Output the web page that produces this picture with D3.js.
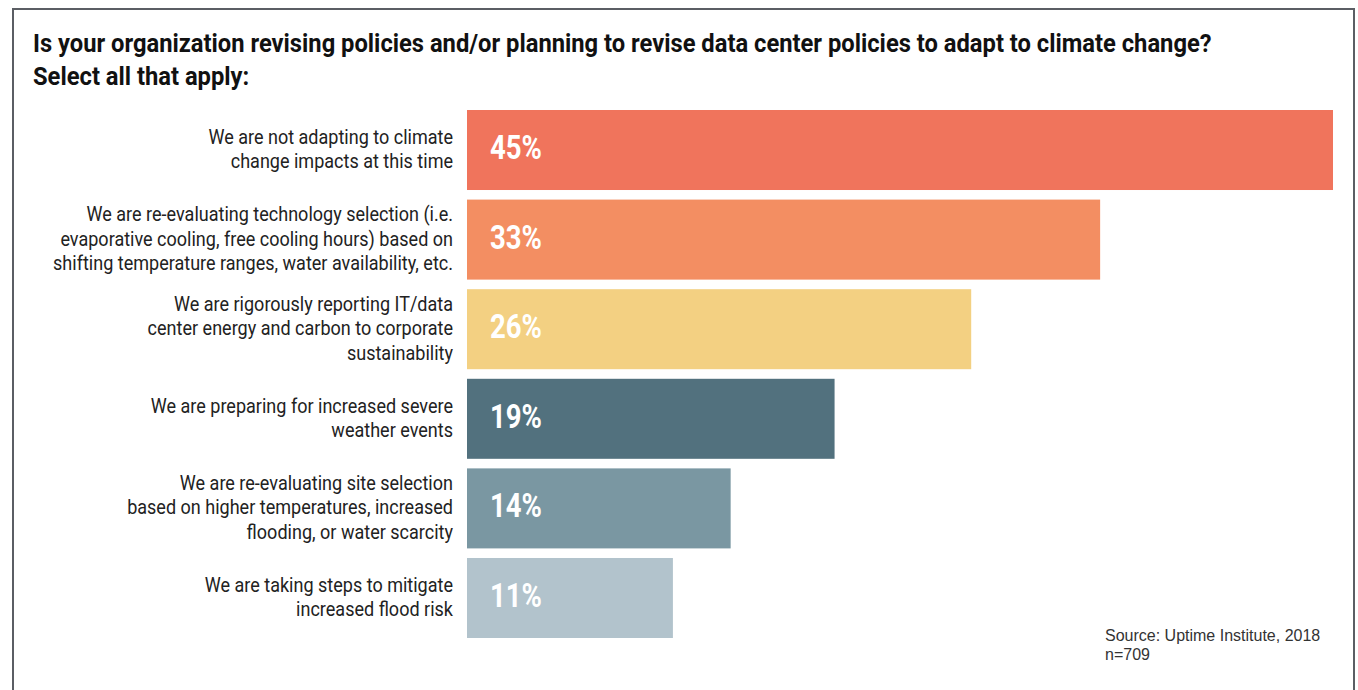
<!DOCTYPE html>
<html>
<head>
<meta charset="utf-8">
<script src="https://cdn.jsdelivr.net/npm/d3@7"></script>
<style>
html,body{margin:0;padding:0;background:#fff;}
svg{display:block;}
</style>
</head>
<body>
<svg id="chart" width="1358" height="690"></svg>
<script>
const titleLines = ["Is your organization revising policies and/or planning to revise data center policies to adapt to climate change?", "Select all that apply:"];
const categories = [
  ["We are not adapting to climate", "change impacts at this time"],
  ["We are re-evaluating technology selection (i.e.", "evaporative cooling, free cooling hours) based on", "shifting temperature ranges, water availability, etc."],
  ["We are rigorously reporting IT/data", "center energy and carbon to corporate", "sustainability"],
  ["We are preparing for increased severe", "weather events"],
  ["We are re-evaluating site selection", "based on higher temperatures, increased", "flooding, or water scarcity"],
  ["We are taking steps to mitigate", "increased flood risk"]
];
const values = [45, 32.9, 26.2, 19.1, 13.7, 10.7];
const colors = ["#f0745c", "#f38e62", "#f3d082", "#52717e", "#7a97a2", "#b2c3cc"];
const sourceLines = ["Source: Uptime Institute, 2018", "n=709"];

const svg = d3.select("#chart");
const font = "Roboto, 'Noto Sans', sans-serif";

// frame
svg.append("path")
  .attr("d", "M13,700 L13,9 L1354,9 L1354,700")
  .attr("fill", "none").attr("stroke", "#5b5e64").attr("stroke-width", 2);

function condensed(parent, x, y, txt, size, weight, fill, anchor, k) {
  const g = parent.append("g").attr("transform", `translate(${x},${y}) scale(${k},1)`);
  return g.append("text").attr("x", 0).attr("y", 0)
    .attr("font-family", font).attr("font-size", size).attr("font-weight", weight)
    .attr("fill", fill).attr("text-anchor", anchor).text(txt);
}
function measure(txt, size, weight) {
  const t = svg.append("text").attr("font-family", font).attr("font-size", size)
    .attr("font-weight", weight).text(txt);
  const w = t.node().getComputedTextLength();
  t.remove();
  return w;
}

// title
const kTitle = 1179 / measure(titleLines[0], 25.5, 700);
condensed(svg, 33, 52, titleLines[0], 25.5, 700, "#111", "start", kTitle);
condensed(svg, 33, 85, titleLines[1], 25.5, 700, "#111", "start", kTitle);

// scales
const x = d3.scaleLinear().domain([0, 45]).range([467, 1333]);
const y = d3.scaleBand().domain(d3.range(values.length)).range([110, 638]).paddingInner(0.107).paddingOuter(0);

svg.append("g").selectAll("rect").data(values).join("rect")
  .attr("x", x(0)).attr("y", (d, i) => y(i))
  .attr("width", d => x(d) - x(0)).attr("height", y.bandwidth())
  .attr("fill", (d, i) => colors[i]);

// labels
const labSize = 20.5;
const kLab = 326 / measure("based on higher temperatures, increased", labSize, 400);
const lh = 24.5;
categories.forEach((lines, i) => {
  const cy = y(i) + y.bandwidth() / 2;
  const n = lines.length;
  lines.forEach((ln, j) => {
    const by = cy + (j - (n - 1) / 2) * lh + 6;
    condensed(svg, 453, by, ln, labSize, 400, "#222", "end", kLab);
  });
});

// value labels
const kVal = 52 / measure("45%", 34, 700);
values.forEach((v, i) => {
  const cy = y(i) + y.bandwidth() / 2;
  condensed(svg, 490, cy + 9, Math.round(v) + "%", 34, 700, "#fff", "start", kVal);
});

// source
svg.append("g").selectAll("text").data(sourceLines).join("text")
  .attr("x", 1105).attr("y", (d, i) => 641 + i * 19)
  .attr("font-family", "'Liberation Sans', Arial, sans-serif")
  .attr("font-size", 16).attr("fill", "#333").text(d => d);
</script>
</body>
</html>
